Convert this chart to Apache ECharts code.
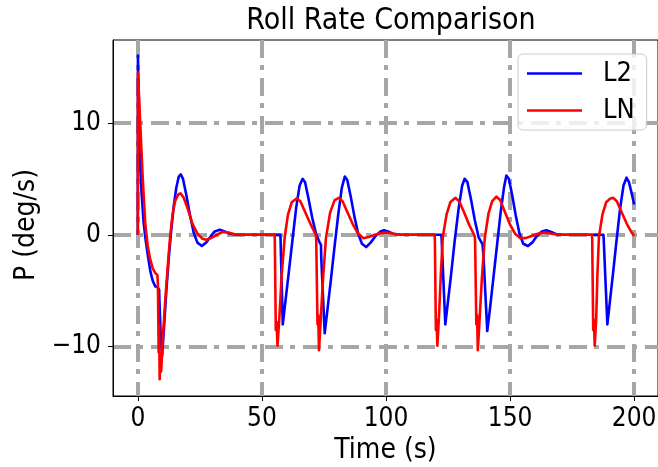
<!DOCTYPE html>
<html><head><meta charset="utf-8">
<script src="https://cdn.jsdelivr.net/npm/echarts@6/dist/echarts.min.js"></script>
<style>html,body{margin:0;padding:0;background:#fff}#c{width:658px;height:467px}</style>
</head><body><div id="c"></div>
<script>
const l2Time = [0,0.05,0.3,0.8,1.5,2.3,3,4,5,6,7,8,8.6,8.7,9.3,9.8,10.5,11.5,12.5,13.5,14.5,15.5,16.5,17.3,18.2,19.5,21,22.5,24,25.8,27.5,29.5,31,33,35,37,40,
57.4,57.5,58.4,59.5,60.8,62.3,63.8,65.2,66.4,67.4,68.8,70.3,71.8,73.3,73.8,73.9,75.3,76.4,77.7,79.2,80.7,82.2,83.4,84.4,85.8,87.3,88.8,90.3,92.0,93.8,95.8,97.8,99.2,100.8,102.8,105.8,
122.3,122.4,123.9,125.0,126.3,127.7,129.3,130.7,131.7,132.8,134.3,135.8,137.3,138.9,139.1,139.3,140.8,141.9,143.2,144.7,146.2,147.6,148.5,149.5,150.8,152.3,153.8,155.3,157.2,158.9,160.8,162.8,164.6,166.6,168.6,171.6,
187.6,187.7,189.2,190.3,191.6,192.9,194.3,195.7,196.9,197.9,199,200];
const l2Values = [0,16.0,13.0,7.5,3.8,1.2,-0.2,-1.8,-3.2,-4.1,-4.6,-4.7,-4.9,-5.8,-9.5,-10.8,-8.5,-5.0,-2.0,0.5,2.6,4.2,5.2,5.4,5.0,3.6,1.8,0.2,-0.7,-1.0,-0.7,-0.1,0.3,0.45,0.3,0.1,0,
0,-0.3,-8.0,-5.9,-3.4,-0.5,2.4,4.4,5.0,4.7,3.2,1.5,0.1,-0.7,-0.9,-2.0,-8.8,-6.7,-4.2,-1.2,1.7,4.2,5.2,4.9,3.4,1.6,0.1,-0.8,-1.1,-0.7,-0.1,0.3,0.4,0.3,0.1,0,
0,-0.3,-8.0,-5.9,-3.4,-0.5,2.4,4.4,5.0,4.7,3.1,1.3,-0.2,-0.85,-0.9,-2.0,-8.6,-6.6,-4.0,-1.0,2.0,4.3,5.3,5.0,3.6,1.7,0.1,-0.8,-1.0,-0.7,-0.1,0.3,0.4,0.25,0.05,0,
0,-0.3,-8.0,-5.8,-3.2,-0.5,2.3,4.4,5.1,4.7,3.7,2.7];

const lnTime = [0,0.05,0.5,1,2,3,4,5,6,7,7.9,8.1,8.4,8.6,8.8,9.1,9.4,10,11,12,13,14,15,16.3,17.2,18.5,20,22,24,26,27.7,29.5,31.5,34,36.5,39,42,
55.1,55.2,55.6,55.9,56.3,57.0,58.0,59.2,60.5,62,64.0,65.5,67.5,69.5,71.5,71.8,71.9,72.4,72.7,73.0,73.6,74.6,75.8,77.5,79.3,81,82.5,84.5,86.5,88.5,90.8,93,95.5,98,100.5,103,106,
119.6,119.7,120.1,120.4,120.7,121.3,122.1,122.9,124.4,125.9,127.9,129.5,131.5,133.5,135.5,135.8,135.9,136.4,136.7,137.0,137.6,138.6,139.8,141.3,142.8,144.5,146,148,150,152,154.2,156.2,158.7,161.2,163.7,166.7,169.7,
183.0,183.1,183.5,183.8,184.1,184.7,185.2,185.8,187.2,188.7,190.4,191.6,193,195,197,199,200];
const lnValues = [0,14.5,12.3,9.8,5.0,1.0,-1.0,-2.2,-3.0,-3.4,-3.6,-4.5,-10.5,-8.0,-12.9,-11.0,-12.2,-9.5,-6.0,-3.0,-0.2,1.8,3.0,3.6,3.7,3.3,2.4,1.0,0.1,-0.35,-0.45,-0.3,-0.05,0.25,0.2,0.05,0,
0,-0.5,-8.5,-7.8,-9.9,-7.5,-3.5,-0.2,1.8,2.9,3.25,3.0,2.0,1.0,0.1,-0.1,-0.6,-8.0,-7.2,-10.3,-8.0,-4.0,-0.3,2.0,3.1,3.3,3.0,2.0,1.0,0.2,-0.3,-0.2,0,0.15,0.2,0.1,0,
0,-0.5,-8.5,-7.6,-9.9,-7.5,-3.5,-0.2,1.8,2.9,3.3,3.0,2.0,0.9,0.0,-0.2,-0.6,-8.0,-7.2,-10.3,-8.0,-4.0,-0.3,1.9,3.0,3.4,3.1,2.0,0.9,0.1,-0.3,-0.3,-0.1,0.1,0.2,0.1,0,
0,-0.5,-8.5,-7.6,-9.9,-7.5,-3.5,-0.2,1.8,2.9,3.25,3.3,3.0,2.0,1.0,0.2,-0.1];

const xTicks = [0,50,100,150,200];
const yTicks = [-10,0,10];
const seriesNames = ['L2','LN'];

const FONT = "'DejaVu Sans Condensed', 'Liberation Sans Narrow', 'Liberation Sans', sans-serif";
const pairs = (t, v) => t.map((x, i) => [x, v[i]]);
const gridLine = {show: true, lineStyle: {color: '#a6a6a6', width: 4, type: [18, 7, 5, 8]}};

const chart = echarts.init(document.getElementById('c'), null, {renderer: 'canvas'});
chart.setOption({
  animation: false,
  backgroundColor: '#fff',
  title: {text: 'Roll Rate Comparison', left: 386, top: 1, textAlign: 'center',
    textStyle: {fontFamily: FONT, fontSize: 30, fontWeight: 'normal', color: '#000'}},
  grid: {left: 113, top: 40, right: 0, bottom: 71, show: true, borderColor: '#000', borderWidth: 1,
    containLabel: false, outerBoundsMode: 'none'},
  legend: {data: seriesNames, orient: 'vertical', left: 518, top: 54, icon: 'rect', itemWidth: 55, itemHeight: 2.5,
    itemGap: 10, padding: [6, 12, 6, 9], borderColor: '#cccccc', borderWidth: 1, borderRadius: 5,
    backgroundColor: 'rgba(255,255,255,0.8)',
    textStyle: {fontFamily: FONT, fontSize: 27, color: '#000', padding: [0, 0, 0, 16]}},
  xAxis: {type: 'value', min: -10, max: 209.6,
    name: 'Time (s)', nameLocation: 'middle', nameGap: 40,
    nameTextStyle: {fontFamily: FONT, fontSize: 28, color: '#000'},
    axisLine: {show: true, onZero: false, lineStyle: {color: '#000', width: 1}},
    axisTick: {show: true, length: 5, customValues: xTicks, lineStyle: {color: '#000'}},
    axisLabel: {customValues: xTicks, margin: 10, fontFamily: FONT, fontSize: 26, color: '#000'},
    splitLine: gridLine},
  yAxis: {type: 'value', min: -14.4, max: 17.4,
    name: 'P (deg/s)', nameLocation: 'middle', nameGap: 72, nameRotate: 90,
    nameTextStyle: {fontFamily: FONT, fontSize: 28, color: '#000', padding: [0, 14, 0, 0]},
    axisLine: {show: true, onZero: false, lineStyle: {color: '#000', width: 1}},
    axisTick: {show: true, length: 5, customValues: yTicks, lineStyle: {color: '#000'}},
    axisLabel: {customValues: yTicks, margin: 12, fontFamily: FONT, fontSize: 26, color: '#000',
      formatter: v => v < 0 ? '\u2212' + Math.abs(v) : String(v)},
    splitLine: gridLine},
  series: [
    {name: seriesNames[0], type: 'line', data: pairs(l2Time, l2Values), showSymbol: false, color: '#0000ff',
      lineStyle: {width: 2.6, color: '#0000ff', join: 'round'}, smooth: false, z: 3},
    {name: seriesNames[1], type: 'line', data: pairs(lnTime, lnValues), showSymbol: false, color: '#ff0000',
      lineStyle: {width: 2.6, color: '#ff0000', join: 'round'}, smooth: false, z: 4}
  ]
});
</script></body></html>
